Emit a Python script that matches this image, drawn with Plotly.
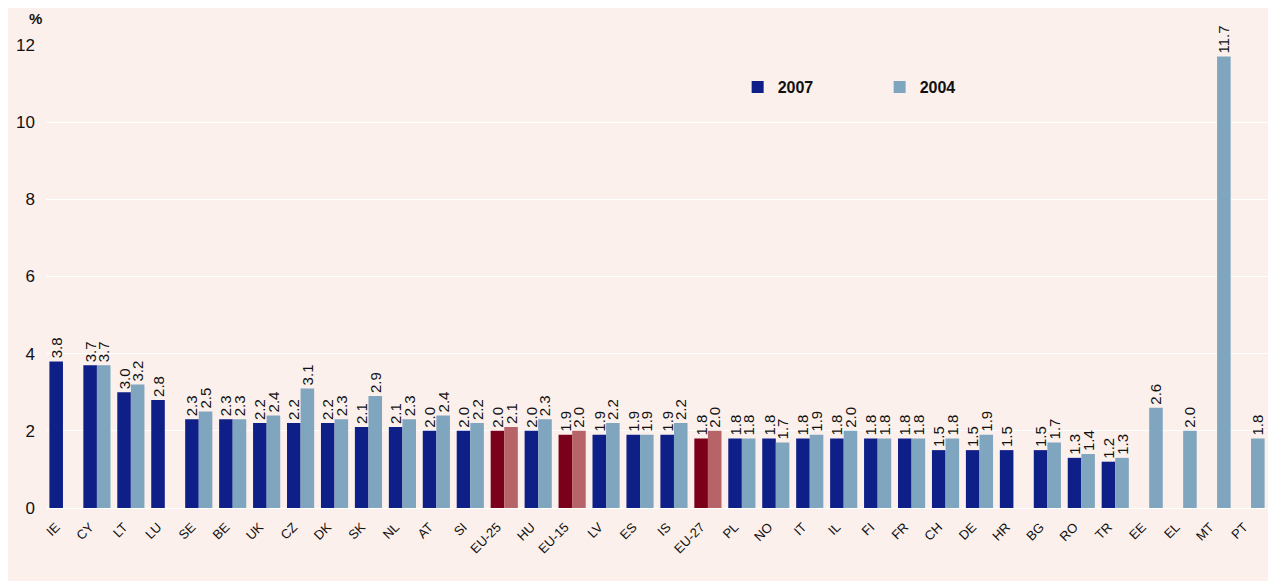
import plotly.graph_objects as go

categories = ["IE", "CY", "LT", "LU", "SE", "BE", "UK", "CZ", "DK", "SK", "NL", "AT", "SI",
              "EU-25", "HU", "EU-15", "LV", "ES", "IS", "EU-27", "PL", "NO", "IT", "IL", "FI",
              "FR", "CH", "DE", "HR", "BG", "RO", "TR", "EE", "EL", "MT", "PT"]

v2007 = [3.8, 3.7, 3.0, 2.8, 2.3, 2.3, 2.2, 2.2, 2.2, 2.1, 2.1, 2.0, 2.0,
         2.0, 2.0, 1.9, 1.9, 1.9, 1.9, 1.8, 1.8, 1.8, 1.8, 1.8, 1.8,
         1.8, 1.5, 1.5, 1.5, 1.5, 1.3, 1.2, None, None, None, None]

v2004 = [None, 3.7, 3.2, None, 2.5, 2.3, 2.4, 3.1, 2.3, 2.9, 2.3, 2.4, 2.2,
         2.1, 2.3, 2.0, 2.2, 1.9, 2.2, 2.0, 1.8, 1.7, 1.9, 2.0, 1.8,
         1.8, 1.8, 1.9, None, 1.7, 1.4, 1.3, 2.6, 2.0, 11.7, 1.8]

C2007, C2004 = "#0f1f88", "#80a5bf"
CEU07, CEU04 = "#7b001a", "#b66468"
BG = "#fcf0ec"

col07 = [CEU07 if c.startswith("EU-") else C2007 for c in categories]
col04 = [CEU04 if c.startswith("EU-") else C2004 for c in categories]

def labels(vals):
    return [("%.1f" % v) if v is not None else "" for v in vals]

label_font = dict(family="Arial", size=15, color="#111111")

fig = go.Figure()
fig.add_trace(go.Bar(x=categories, y=v2007, name="<b>2007</b>", marker_color=col07,
                     marker_line_width=0,
                     text=labels(v2007), textposition="outside", textangle=-90,
                     textfont=label_font, constraintext="none", cliponaxis=False))
fig.add_trace(go.Bar(x=categories, y=v2004, name="<b>2004</b>", marker_color=col04,
                     marker_line_width=0,
                     text=labels(v2004), textposition="outside", textangle=-90,
                     textfont=label_font, constraintext="none", cliponaxis=False))

fig.update_layout(
    width=1268, height=573,
    barmode="group", bargap=0.2, bargroupgap=0,
    paper_bgcolor=BG, plot_bgcolor=BG,
    margin=dict(l=32, r=8, t=37, b=73),
    font=dict(family="Arial", color="#111111"),
    legend=dict(orientation="h", x=0.566, y=0.909, xanchor="left", yanchor="middle",
                entrywidth=97, font=dict(size=16, family="Arial", color="#111111"),
                bgcolor="rgba(0,0,0,0)", traceorder="normal"),
    annotations=[dict(text="<b>%</b>", xref="paper", yref="paper", x=-0.009, y=1.058,
                      xanchor="center", yanchor="middle", showarrow=False,
                      font=dict(size=15, family="Arial"))],
)
fig.update_xaxes(tickangle=-45, tickfont=dict(size=13, family="Arial"), showgrid=False,
                 showline=False, ticks="", ticklabelstandoff=8, ticklabelshift=-7)
fig.update_yaxes(range=[0, 12], dtick=2, showgrid=True, gridcolor="white", gridwidth=1,
                 zeroline=True, zerolinecolor="white", zerolinewidth=1,
                 tickfont=dict(size=17, family="Arial"), ticks="", showline=False,
                 ticklabelstandoff=10)

fig.write_html("out.html")
